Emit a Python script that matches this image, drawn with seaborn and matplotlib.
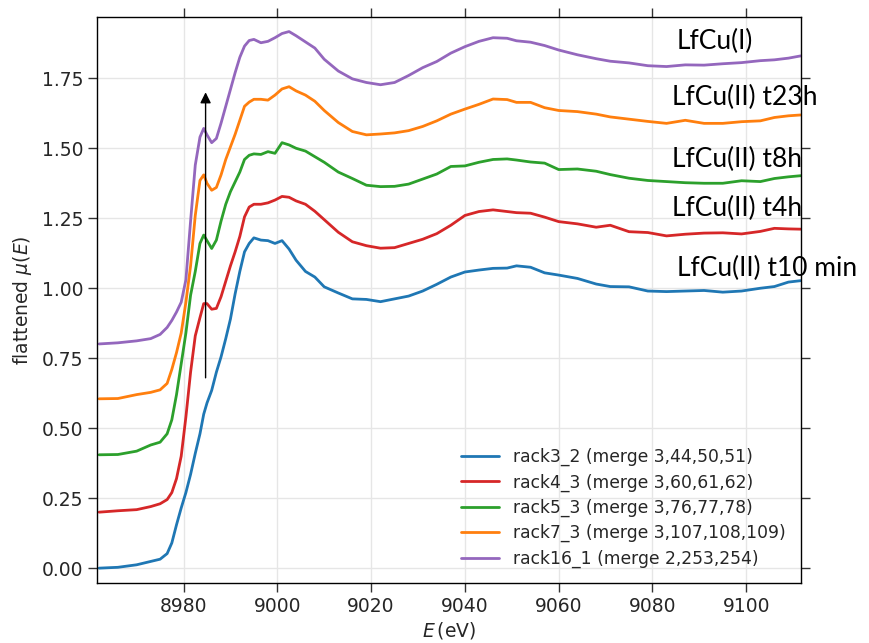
import numpy as np
import pandas as pd
import matplotlib
matplotlib.use("Agg")
import matplotlib.pyplot as plt
import seaborn as sns

# ---- data ----
energy = [8962, 8966, 8970, 8973, 8975, 8976.5, 8977.5, 8978.5, 8979.5, 8980.5,
          8981.5, 8982.5, 8983.5, 8984.3, 8985, 8986, 8987, 8988, 8989, 8990,
          8991, 8992, 8993, 8994, 8995, 8996.5, 8998, 8999.5, 9001, 9002.5,
          9004, 9006, 9008, 9010, 9013, 9016, 9019, 9022, 9025, 9028,
          9031, 9034, 9037, 9040, 9043, 9046, 9049, 9051, 9054, 9057,
          9060, 9064, 9068, 9071, 9075, 9079, 9083, 9087, 9091, 9095,
          9099, 9103, 9106, 9109, 9111.6]

rack3_2 = [0.000, 0.003, 0.012, 0.024, 0.032, 0.052, 0.090, 0.155, 0.215, 0.270,
           0.335, 0.410, 0.480, 0.550, 0.590, 0.635, 0.700, 0.755, 0.820, 0.890,
           0.980, 1.060, 1.130, 1.160, 1.180, 1.172, 1.170, 1.160, 1.170, 1.140,
           1.100, 1.060, 1.040, 1.005, 0.983, 0.962, 0.960, 0.952, 0.962, 0.972,
           0.990, 1.014, 1.040, 1.058, 1.065, 1.071, 1.072, 1.080, 1.075, 1.055,
           1.047, 1.035, 1.015, 1.006, 1.005, 0.990, 0.988, 0.990, 0.992, 0.986,
           0.990, 1.000, 1.006, 1.022, 1.027]

rack4_3 = [0.200, 0.205, 0.209, 0.220, 0.230, 0.245, 0.270, 0.320, 0.400, 0.540,
           0.700, 0.830, 0.895, 0.945, 0.945, 0.925, 0.928, 0.970, 1.025, 1.080,
           1.130, 1.185, 1.255, 1.290, 1.300, 1.300, 1.305, 1.315, 1.328, 1.325,
           1.312, 1.300, 1.275, 1.245, 1.200, 1.166, 1.152, 1.143, 1.145, 1.160,
           1.175, 1.195, 1.225, 1.260, 1.274, 1.280, 1.274, 1.270, 1.268, 1.254,
           1.238, 1.230, 1.218, 1.225, 1.202, 1.199, 1.187, 1.193, 1.197, 1.198,
           1.194, 1.203, 1.214, 1.212, 1.211]

rack5_3 = [0.405, 0.406, 0.418, 0.440, 0.450, 0.480, 0.530, 0.620, 0.730, 0.840,
           0.975, 1.060, 1.160, 1.190, 1.170, 1.142, 1.172, 1.240, 1.300, 1.345,
           1.380, 1.415, 1.460, 1.475, 1.480, 1.478, 1.488, 1.482, 1.520, 1.512,
           1.500, 1.490, 1.470, 1.450, 1.415, 1.392, 1.368, 1.363, 1.364, 1.372,
           1.390, 1.408, 1.435, 1.437, 1.450, 1.460, 1.462, 1.458, 1.451, 1.447,
           1.424, 1.426, 1.418, 1.406, 1.393, 1.385, 1.381, 1.377, 1.375, 1.375,
           1.384, 1.381, 1.392, 1.398, 1.402]

rack7_3 = [0.605, 0.606, 0.620, 0.628, 0.637, 0.660, 0.710, 0.770, 0.840, 0.950,
           1.080, 1.260, 1.385, 1.405, 1.375, 1.350, 1.360, 1.405, 1.460, 1.505,
           1.550, 1.600, 1.650, 1.665, 1.675, 1.675, 1.672, 1.690, 1.712, 1.720,
           1.705, 1.690, 1.668, 1.635, 1.592, 1.560, 1.548, 1.551, 1.555, 1.563,
           1.578, 1.598, 1.622, 1.640, 1.657, 1.676, 1.674, 1.664, 1.664, 1.645,
           1.635, 1.631, 1.622, 1.612, 1.604, 1.596, 1.589, 1.600, 1.589, 1.589,
           1.595, 1.598, 1.610, 1.616, 1.619]

rack16_1 = [0.801, 0.805, 0.812, 0.820, 0.835, 0.860, 0.885, 0.915, 0.950, 1.030,
            1.240, 1.440, 1.540, 1.571, 1.548, 1.520, 1.535, 1.590, 1.650, 1.710,
            1.770, 1.825, 1.865, 1.885, 1.889, 1.877, 1.882, 1.895, 1.910, 1.917,
            1.902, 1.880, 1.858, 1.818, 1.776, 1.748, 1.735, 1.727, 1.735, 1.760,
            1.788, 1.810, 1.840, 1.863, 1.882, 1.895, 1.893, 1.884, 1.879, 1.867,
            1.851, 1.834, 1.820, 1.811, 1.805, 1.795, 1.792, 1.798, 1.797, 1.802,
            1.806, 1.813, 1.816, 1.822, 1.830]

series_labels = ["rack3_2 (merge 3,44,50,51)",
                 "rack4_3 (merge 3,60,61,62)",
                 "rack5_3 (merge 3,76,77,78)",
                 "rack7_3 (merge 3,107,108,109)",
                 "rack16_1 (merge 2,253,254)"]
series_values = [rack3_2, rack4_3, rack5_3, rack7_3, rack16_1]
colors = ["#1f77b4", "#d62728", "#2ca02c", "#ff7f0e", "#9467bd"]

sample_names = ["LfCu(I)", "LfCu(II) t23h", "LfCu(II) t8h", "LfCu(II) t4h",
                "LfCu(II) t10 min"]

x_ticks = [8980, 9000, 9020, 9040, 9060, 9080, 9100]
y_ticks = [0.00, 0.25, 0.50, 0.75, 1.00, 1.25, 1.50, 1.75]

arrow_energy = 8984.7
arrow_from = 0.68
arrow_to = 1.70

# ---- long-form table ----
frames = []
for lab, vals in zip(series_labels, series_values):
    frames.append(pd.DataFrame({"E": energy, "mu": vals, "label": lab}))
df = pd.concat(frames, ignore_index=True)

# ---- style ----
sns.set_style("whitegrid", {
    "axes.edgecolor": "black",
    "grid.color": "#e6e6e6",
    "xtick.bottom": True, "ytick.left": True,
    "xtick.top": True, "ytick.right": True,
})
plt.rcParams["font.family"] = ["DejaVu Sans"]

fig = plt.figure(figsize=(8.7, 6.43), dpi=100)
ax = fig.add_axes([0.1118, 0.0929, 0.8085, 0.8811])

sns.lineplot(data=df, x="E", y="mu", hue="label", palette=colors,
             linewidth=2.0, estimator=None, ax=ax)

ax.set_xlim(8961.6, 9111.6)
ax.set_ylim(-0.054, 1.97)
ax.set_xticks(x_ticks)
ax.set_yticks(y_ticks)
ax.set_yticklabels([f"{v:.2f}" for v in y_ticks])

ax.tick_params(axis="both", which="major", direction="out", length=6.5,
               width=1.0, color="#333333", labelsize=13.5,
               top=True, right=True, bottom=True, left=True,
               labeltop=False, labelright=False)
for sp in ax.spines.values():
    sp.set_color("black")
    sp.set_linewidth(1.0)
ax.grid(True, color="#e6e6e6", linewidth=1.0)

ax.set_xlabel(r"$E\,$(eV)", fontsize=13.5, labelpad=3)
ax.set_ylabel(r"flattened $\mu(E)$", fontsize=13.5, labelpad=6)

handles, labels = ax.get_legend_handles_labels()
ax.legend(handles, labels, loc="lower right", frameon=False, fontsize=12.3,
          labelspacing=0.42, handlelength=2.2, borderaxespad=0.5)

ax.annotate("", xy=(arrow_energy, arrow_to), xytext=(arrow_energy, arrow_from),
            arrowprops=dict(arrowstyle="-|>", color="black", lw=1.0,
                            mutation_scale=16, shrinkA=0, shrinkB=0))

# sample names (added labels overlaying the plot, right side)
name_pos = [(677, 41), (672, 97), (672, 159), (672, 208), (677, 268)]
for name, (px, py) in zip(sample_names, name_pos):
    fig.text(px / 870, 1 - py / 643, name, ha="left", va="center",
             fontsize=19, family=["Lato", "DejaVu Sans"], color="black",
             zorder=10)

fig.savefig("out.png", dpi=100)
